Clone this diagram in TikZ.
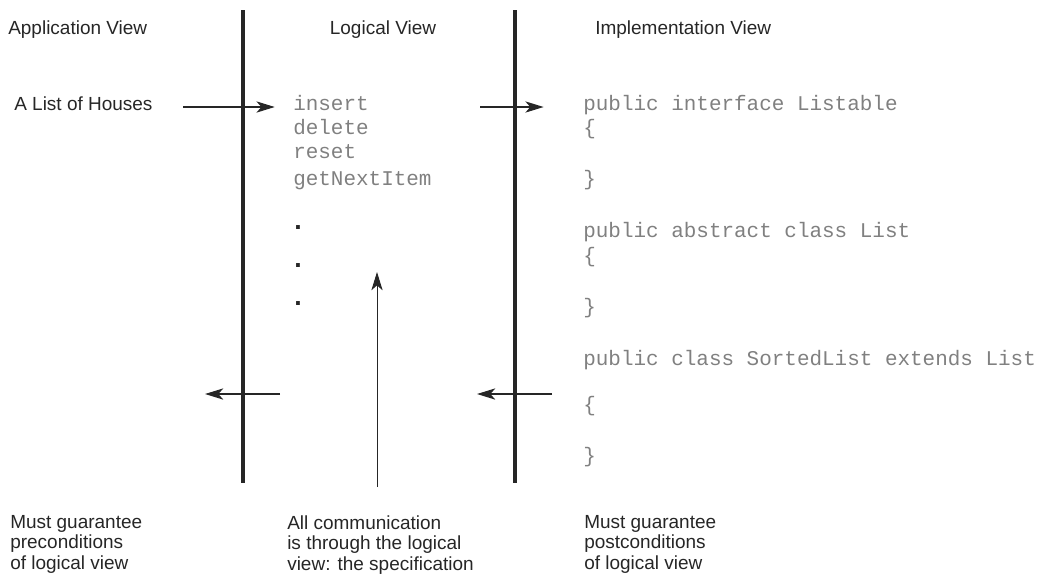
\documentclass[tikz,border=0pt]{standalone}
\usepackage{fontspec}
\setmainfont{Liberation Sans}
\setmonofont{Liberation Mono}
\usetikzlibrary{arrows.meta,positioning}

\tikzset{
  divider/.style={line width=2.2pt, black!85},
  flow/.style={line width=0.9pt, black!85, -{Stealth[length=13pt,width=8pt,inset=3.5pt]}},
  label/.style={font=\fontsize{13.5}{14.6}\selectfont, inner sep=0pt, anchor=west,
    text height=0.75em, text depth=0.25em, text=black!85},
  note/.style={font=\fontsize{13.5}{14.6}\selectfont, inner sep=0pt, anchor=north west,
    align=left, text=black!85},
  code/.style={font=\ttfamily\fontsize{14.9}{17}\selectfont, text=black!50, inner sep=0pt,
    anchor=west, text height=0.75em, text depth=0.25em},
  dotmark/.style={font=\bfseries\fontsize{19}{19}\selectfont, text=black!85, inner sep=0pt,
    anchor=base west},
}

\begin{document}
\begin{tikzpicture}[x=0.025cm, y=-0.025cm]
  \useasboundingbox (0,0) rectangle (1044,575);

  % the two dividing lines
  \draw[divider] (243,10) coordinate (ltop) -- (243,483) coordinate (lbot);
  \draw[divider] (515,10) coordinate (rtop) -- (515,483) coordinate (rbot);

  % column titles
  \node[label] (appview) at (8,31) {Application View};
  \node[label, anchor=center] (logview) at (383,31) {Logical View};
  \node[label] (impview) at (595,31) {Implementation View};

  % application side
  \node[label] (houses) at (14,107) {A List of Houses};

  % logical side: the operations
  \foreach \op/\y [count=\i] in {insert/107, delete/131, reset/155, getNextItem/182}
    \node[code] (op\i) at (293,\y) {\op};
  \foreach \y [count=\i] in {229, 267, 305}
    \node[dotmark] (dot\i) at (294,\y) {.};

  % implementation side
  \node[code] (iface)  at (583,107) {public interface Listable};
  \node[code] (iopen)  at (583,131) {\{};
  \node[code] (iclose) at (583,182) {\}};
  \node[code] (alist)  at (583,234) {public abstract class List};
  \node[code] (aopen)  at (583,259) {\{};
  \node[code] (aclose) at (583,310) {\}};
  \node[code] (slist)  at (583,362) {public class SortedList extends List};
  \node[code] (sopen)  at (583,408) {\{};
  \node[code] (sclose) at (583,459) {\}};

  % arrows between the views
  \coordinate (a1) at (183,107);
  \coordinate (a2) at (480,107);
  \draw[flow] (a1) -- ([xshift=-13]op1.west);
  \draw[flow] (a2) -- ([xshift=-28]iface.west);

  \coordinate (b1s) at (280,394);
  \coordinate (b1e) at (205,394);
  \coordinate (b2s) at (552,394);
  \coordinate (b2e) at (477,394);
  \draw[flow] (b1s) -- (b1e);
  \draw[flow] (b2s) -- (b2e);

  \coordinate (upbot) at (377,487);
  \coordinate (uptop) at (377,272);
  \draw[flow, line width=0.7pt] (upbot) -- (uptop);

  % notes at the bottom
  \node[note] (pre)  at (10,515)  {Must guarantee\\preconditions\\of logical view};
  \node[note] (comm) at (287,515) {All communication\\is through the logical\\view: the specification};
  \node[note] (post) at (584,515) {Must guarantee\\postconditions\\of logical view};
\end{tikzpicture}
\end{document}
